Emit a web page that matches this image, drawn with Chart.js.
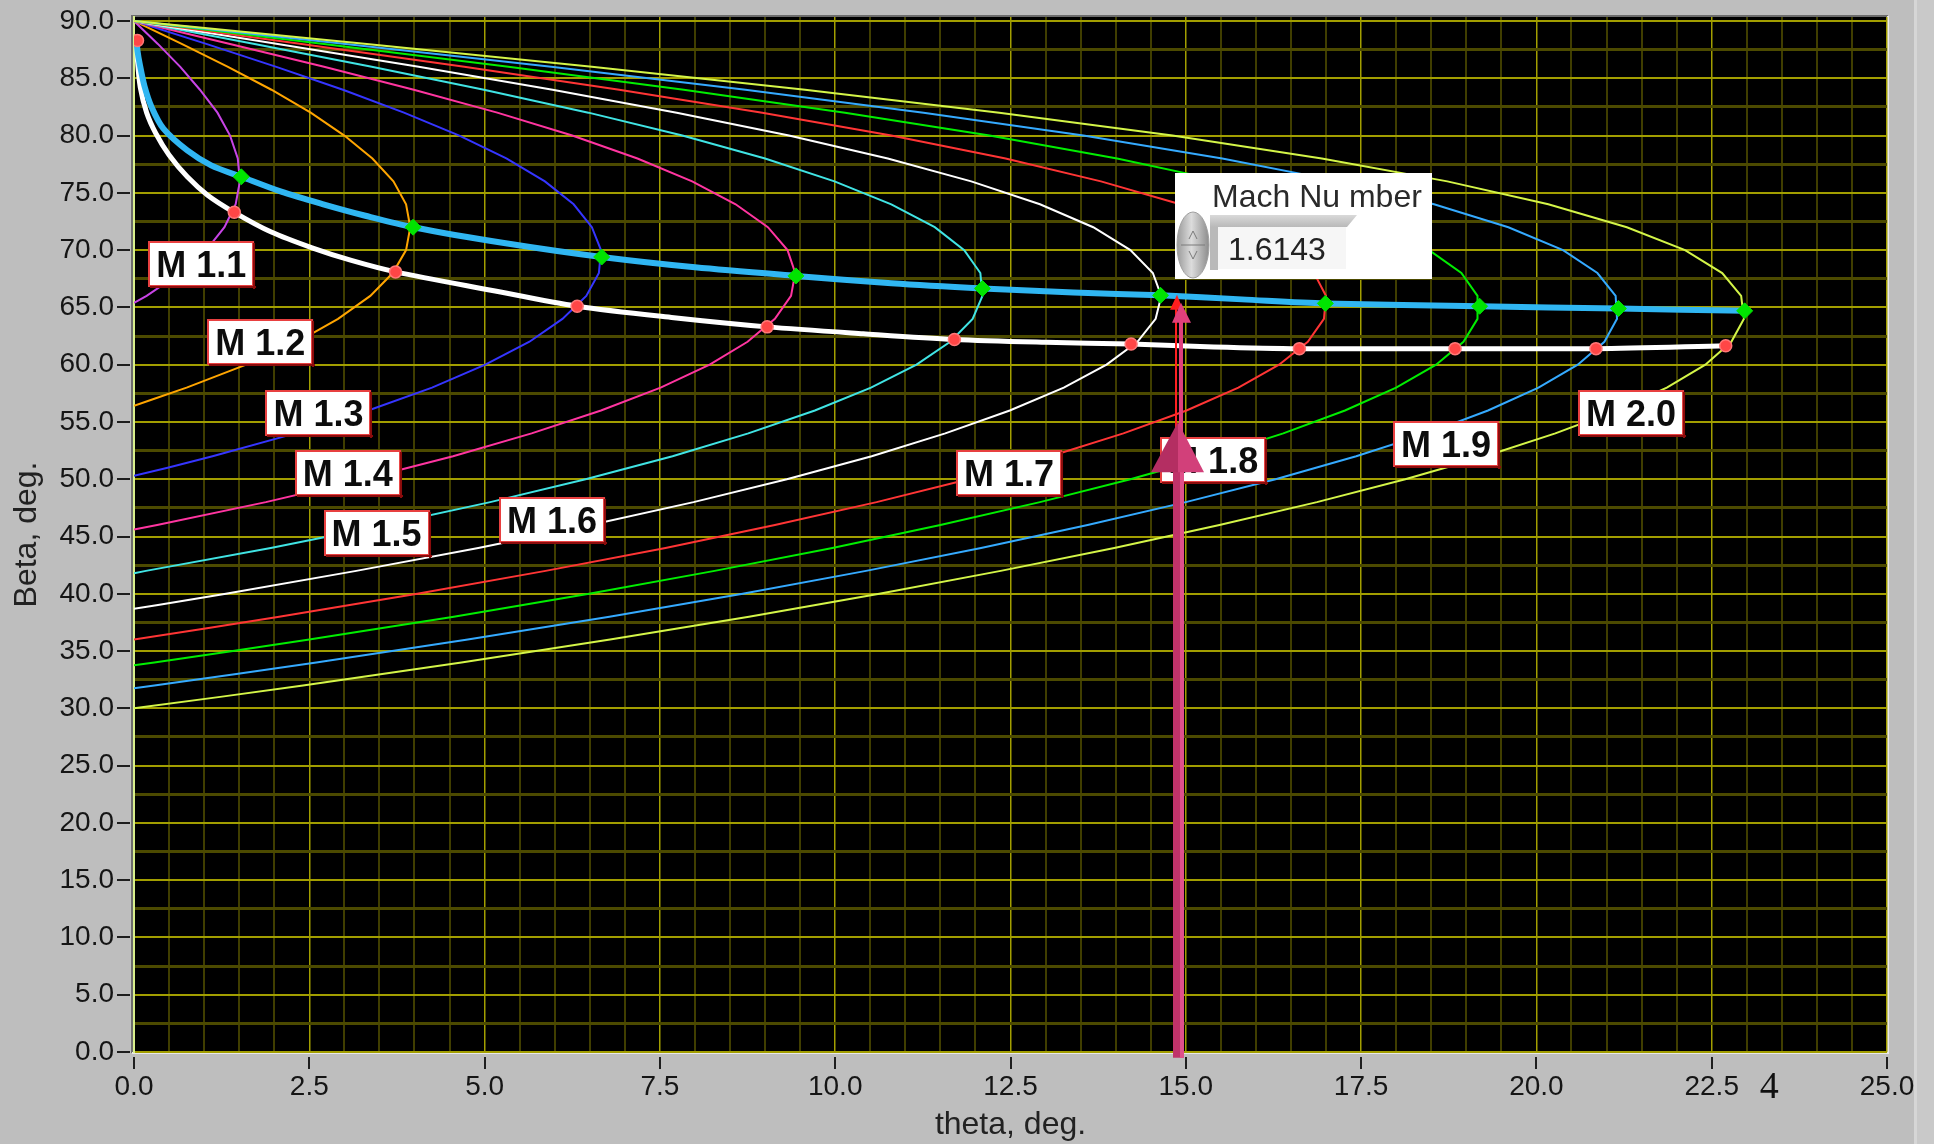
<!DOCTYPE html>
<html lang="en">
<head>
<meta charset="UTF-8">
<title>theta-beta-Mach</title>
<style>
    html, body {
        margin: 0;
        padding: 0;
        background: #bebebe;
    }
    canvas {
        display: block;
    }
</style>
</head>
<body>
<canvas id="chart" width="1934" height="1144"></canvas>
<script src="https://cdn.jsdelivr.net/npm/chart.js"></script>
<script>
// [theta, beta] pairs, one array per Mach number
const machNumbers = ['1.1', '1.2', '1.3', '1.4', '1.5', '1.6', '1.7', '1.8', '1.9', '2.0'];

const m11 = [[0,65.4],[0.18,66],[0.66,68],[1.03,70],[1.29,72],[1.45,74],[1.51,76],[1.48,78],[1.37,80],[1.19,82],[0.94,84],[0.66,86],[0.34,88],[0,90]];
const m12 = [[0,56.4],[0.28,57],[0.75,58],[1.6,60],[2.33,62],[2.91,64],[3.37,66],[3.69,68],[3.88,70],[3.94,72],[3.88,74],[3.7,76],[3.4,78],[3.0,80],[2.52,82],[1.96,84],[1.34,86],[0.68,88],[0,90]];
const m13 = [[0,50.3],[0.48,51],[1.12,52],[2.3,54],[3.34,56],[4.25,58],[5.01,60],[5.64,62],[6.11,64],[6.45,66],[6.63,68],[6.66,70],[6.53,72],[6.27,74],[5.86,76],[5.31,78],[4.64,80],[3.85,82],[2.98,84],[2.03,86],[1.03,88],[0,90]];
const m14 = [[0,45.6],[0.33,46],[1.88,48],[3.27,50],[4.55,52],[5.67,54],[6.66,56],[7.51,58],[8.21,60],[8.75,62],[9.14,64],[9.37,66],[9.43,68],[9.32,70],[9.04,72],[8.58,74],[7.96,76],[7.18,78],[6.25,80],[5.18,82],[3.99,84],[2.71,86],[1.37,88],[0,90]];
const m15 = [[0,41.8],[0.17,42],[1.95,44],[3.58,46],[5.08,48],[6.44,50],[7.68,52],[8.76,54],[9.71,56],[10.51,58],[11.16,60],[11.64,62],[11.96,64],[12.1,66],[12.07,68],[11.84,70],[11.42,72],[10.8,74],[9.99,76],[9.0,78],[7.82,80],[6.48,82],[4.99,84],[3.39,86],[1.72,88],[0,90]];
const m16 = [[0,38.7],[0.32,39],[1.31,40],[3.17,42],[4.91,44],[6.51,46],[7.98,48],[9.31,50],[10.52,52],[11.57,54],[12.49,56],[13.26,58],[13.87,60],[14.31,62],[14.57,64],[14.65,66],[14.53,68],[14.21,70],[13.68,72],[12.92,74],[11.94,76],[10.75,78],[9.34,80],[7.74,82],[5.97,84],[4.06,86],[2.05,88],[0,90]];
const m17 = [[0,36.0],[1.04,37],[2.07,38],[4.04,40],[5.87,42],[7.58,44],[9.14,46],[10.59,48],[11.9,50],[13.07,52],[14.11,54],[15.01,56],[15.75,58],[16.33,60],[16.74,62],[16.97,64],[17.0,66],[16.83,68],[16.43,70],[15.79,72],[14.92,74],[13.79,76],[12.43,78],[10.8,80],[8.96,82],[6.92,84],[4.71,86],[2.39,88],[0,90]];
const m18 = [[0,33.75],[0.29,34],[1.41,35],[2.5,36],[4.56,38],[6.49,40],[8.28,42],[9.96,44],[11.5,46],[12.92,48],[14.21,50],[15.37,52],[16.39,54],[17.27,56],[18.0,58],[18.57,60],[18.96,62],[19.16,64],[19.16,66],[18.93,68],[18.47,70],[17.77,72],[16.79,74],[15.54,76],[14.02,78],[12.2,80],[10.14,82],[7.84,84],[5.34,86],[2.71,88],[0,90]];
const m19 = [[0,31.76],[0.29,32],[1.46,33],[2.6,34],[4.76,36],[6.78,38],[8.68,40],[10.44,42],[12.08,44],[13.6,46],[15.0,48],[16.28,50],[17.43,52],[18.44,54],[19.31,56],[20.03,58],[20.59,60],[20.97,62],[21.15,64],[21.13,66],[20.87,68],[20.38,70],[19.6,72],[18.54,74],[17.19,76],[15.52,78],[13.54,80],[11.26,82],[8.72,84],[5.95,86],[3.02,88],[0,90]];
const m20 = [[0,30],[1.23,31],[2.41,32],[4.67,34],[6.79,36],[8.77,38],[10.63,40],[12.36,42],[13.98,44],[15.48,46],[16.87,48],[18.13,50],[19.27,52],[20.27,54],[21.14,56],[21.86,58],[22.41,60],[22.78,62],[22.96,64],[22.92,66],[22.65,68],[22.12,70],[21.29,72],[20.17,74],[18.73,76],[16.94,78],[14.81,80],[12.34,82],[9.57,84],[6.53,86],[3.32,88],[0,90]];

const curves = [m11, m12, m13, m14, m15, m16, m17, m18, m19, m20];

// thick white line through the red dots, thick blue line through the green dots
const sonicLine = [[0.04,88.3],[0.05,86.5],[0.09,84.2],[0.18,82.0],[0.31,80.2],[0.5,78.3],[0.76,76.4],[1.05,74.8],[1.43,73.3],[1.95,71.6],[2.54,70.2],[3.1,69.1],[3.73,68.1],[5.09,66.5],[6.32,65.1],[7.7,64.1],[9.03,63.3],[10.4,62.7],[11.7,62.2],[13.0,61.95],[14.22,61.8],[15.4,61.55],[16.62,61.4],[18.84,61.4],[20.85,61.4],[22.7,61.65]];
const maxLine = [[0.03,88.6],[0.05,87.4],[0.08,86.3],[0.15,84.3],[0.25,82.5],[0.42,80.6],[0.76,78.7],[1.1,77.4],[1.53,76.4],[2.1,75.1],[2.7,74.0],[3.3,73.0],[3.98,72.0],[5.3,70.6],[6.67,69.4],[8.0,68.5],[9.44,67.75],[10.8,67.1],[12.1,66.65],[13.4,66.3],[14.64,66.05],[15.8,65.7],[16.99,65.35],[19.19,65.1],[21.17,64.9],[22.97,64.7]];
const sonicPoints = [[0.05,88.3],[1.43,73.3],[3.73,68.1],[6.32,65.1],[9.03,63.3],[11.7,62.2],[14.22,61.8],[16.62,61.4],[18.84,61.4],[20.85,61.4],[22.7,61.65]];
const maxPoints = [[1.53,76.4],[3.98,72.0],[6.67,69.4],[9.44,67.75],[12.1,66.65],[14.64,66.05],[16.99,65.35],[19.19,65.1],[21.17,64.9],[22.97,64.7]];

// where each "M x.x" tag sits, [theta, beta]
const labelAt = [[0.96,68.8],[1.80,62.0],[2.63,55.8],[3.05,50.5],[3.46,45.3],[5.96,46.4],[12.48,50.5],[15.39,51.7],[18.71,53.1],[21.35,55.8]];

const machValue = '1.6143';

const curveColors = ['#c844e6', '#ffa500', '#3535ff', '#ff35a0', '#40e4e4', '#ffffff', '#ff3535', '#00ee00', '#35aaff', '#d4f548'];
const gridMajor = '#a29e00';
const gridMinorX = '#403e00';
const gridMinorY = '#4c4a00';

Chart.defaults.font.family = "'Liberation Sans', Arial, sans-serif";

function toXY(arr) {
    return arr.map(p => ({x: p[0], y: p[1]}));
}

function isMajor(v, step) {
    return Math.abs(v / step - Math.round(v / step)) < 1e-6;
}

// lower "order" is drawn on top
const datasets = curves.map((c, i) => ({
    label: 'M ' + machNumbers[i],
    data: toXY(c),
    showLine: true,
    borderColor: curveColors[i],
    borderWidth: 2,
    pointRadius: 0,
    tension: 0,
    order: 20 - i
}));
datasets.push({
    label: 'sonic',
    data: toXY(sonicLine),
    showLine: true,
    borderColor: '#ffffff',
    borderWidth: 5,
    pointRadius: 0,
    tension: 0.3,
    order: 4
});
datasets.push({
    label: 'max deflection',
    data: toXY(maxLine),
    showLine: true,
    borderColor: '#30b6f2',
    borderWidth: 6,
    pointRadius: 0,
    tension: 0.3,
    order: 3
});
datasets.push({
    label: 'max points',
    data: toXY(maxPoints),
    showLine: false,
    pointStyle: 'rectRot',
    pointRadius: 8,
    backgroundColor: '#00e400',
    borderColor: '#00e400',
    borderWidth: 1,
    order: 1
});
datasets.push({
    label: 'sonic points',
    data: toXY(sonicPoints),
    showLine: false,
    pointStyle: 'circle',
    pointRadius: 6,
    backgroundColor: '#ff4646',
    borderColor: '#ff7878',
    borderWidth: 1.5,
    order: 0
});

const decorations = {
    id: 'decorations',
    beforeDraw(chart) {
        const {ctx, chartArea: a} = chart;
        ctx.save();
        ctx.fillStyle = '#000';
        ctx.fillRect(a.left - 2, a.top, a.right - a.left + 2, a.bottom - a.top);
        // frame
        ctx.fillStyle = '#6c6c6c';
        ctx.fillRect(a.left - 3, a.top - 2, a.right - a.left + 4, 2);
        ctx.fillRect(a.left - 3, a.top - 2, 2, a.bottom - a.top + 3);
        ctx.fillStyle = '#e9e9e9';
        ctx.fillRect(a.right, a.top - 1, 2, a.bottom - a.top + 3);
        ctx.fillRect(a.left - 2, a.bottom, a.right - a.left + 4, 2);
        // right strip
        ctx.fillStyle = '#c9c9c9';
        ctx.fillRect(1914, 0, 20, chart.height);
        ctx.fillStyle = '#d6d6d6';
        ctx.fillRect(1914, 0, 3, chart.height);
        ctx.restore();
    },
    afterDatasetsDraw(chart) {
        const {ctx, chartArea: a, scales: {x, y}} = chart;
        ctx.save();

        // tick marks
        ctx.strokeStyle = '#1e1e1e';
        ctx.lineWidth = 2;
        x.ticks.forEach(t => {
            if (!isMajor(t.value, 2.5)) return;
            const px = Math.round(x.getPixelForValue(t.value));
            ctx.beginPath();
            ctx.moveTo(px, a.bottom + 5);
            ctx.lineTo(px, a.bottom + 17);
            ctx.stroke();
        });
        y.ticks.forEach(t => {
            if (!isMajor(t.value, 5)) return;
            const py = Math.round(y.getPixelForValue(t.value));
            ctx.beginPath();
            ctx.moveTo(a.left - 17, py);
            ctx.lineTo(a.left - 4, py);
            ctx.stroke();
        });

        // Mach tags
        ctx.font = "bold 36px 'Liberation Sans', Arial, sans-serif";
        ctx.textAlign = 'center';
        ctx.textBaseline = 'alphabetic';
        labelAt.forEach((p, i) => {
            const cx = x.getPixelForValue(p[0]);
            const cy = y.getPixelForValue(p[1]);
            const text = 'M ' + machNumbers[i];
            const w = ctx.measureText(text).width + 16;
            const h = 46;
            const bx = Math.round(cx - w / 2), by = Math.round(cy - h / 2);
            ctx.fillStyle = '#ffffff';
            ctx.fillRect(bx, by, w, h);
            ctx.strokeStyle = '#e84040';
            ctx.lineWidth = 2;
            ctx.strokeRect(bx + 1, by + 1, w - 2, h - 2);
            ctx.fillStyle = '#8a0c0c';
            ctx.fillRect(bx + 2, by + h - 1, w, 2);
            ctx.fillRect(bx + w - 1, by + 2, 2, h);
            ctx.fillStyle = '#0c0c0c';
            ctx.fillText(text, cx, cy + 13);
        });

        // Mach Number control
        const x0 = Math.round(x.getPixelForValue(14.84));
        const y0 = Math.round(y.getPixelForValue(76.73));
        ctx.fillStyle = '#ffffff';
        ctx.fillRect(x0, y0, 257, 106);
        ctx.font = "32px 'Liberation Sans', Arial, sans-serif";
        ctx.textAlign = 'left';
        ctx.fillStyle = '#2a2a2a';
        ctx.fillText('Mach Nu mber', x0 + 37, y0 + 34);
        let g = ctx.createLinearGradient(0, y0 + 42, 0, y0 + 54);
        g.addColorStop(0, '#d9d9d9');
        g.addColorStop(1, '#b9b9b9');
        ctx.fillStyle = g;
        ctx.beginPath();
        ctx.moveTo(x0 + 35, y0 + 42);
        ctx.lineTo(x0 + 182, y0 + 42);
        ctx.lineTo(x0 + 172, y0 + 54);
        ctx.lineTo(x0 + 43, y0 + 54);
        ctx.lineTo(x0 + 43, y0 + 97);
        ctx.lineTo(x0 + 35, y0 + 97);
        ctx.closePath();
        ctx.fill();
        ctx.fillStyle = '#f6f6f6';
        ctx.fillRect(x0 + 43, y0 + 54, 128, 42);
        ctx.fillStyle = '#222';
        ctx.fillText(machValue, x0 + 53, y0 + 87);
        g = ctx.createLinearGradient(x0 + 2, 0, x0 + 34, 0);
        g.addColorStop(0, '#9a9a9a');
        g.addColorStop(0.45, '#dcdcdc');
        g.addColorStop(1, '#8c8c8c');
        ctx.fillStyle = g;
        ctx.beginPath();
        ctx.ellipse(x0 + 18, y0 + 72, 16, 33, 0, 0, Math.PI * 2);
        ctx.fill();
        ctx.strokeStyle = '#a0a0a0';
        ctx.lineWidth = 1;
        ctx.stroke();
        ctx.strokeStyle = '#7a7a7a';
        ctx.beginPath();
        ctx.moveTo(x0 + 6, y0 + 72);
        ctx.lineTo(x0 + 30, y0 + 72);
        ctx.moveTo(x0 + 14, y0 + 66);
        ctx.lineTo(x0 + 18, y0 + 58);
        ctx.lineTo(x0 + 22, y0 + 66);
        ctx.moveTo(x0 + 14, y0 + 78);
        ctx.lineTo(x0 + 18, y0 + 86);
        ctx.lineTo(x0 + 22, y0 + 78);
        ctx.stroke();

        // arrow pointing at theta = 15
        const ax = Math.round(x.getPixelForValue(14.89));
        const yTip = y.getPixelForValue(66.1);
        const yHead = y.getPixelForValue(55.0);
        const yBase = y.getPixelForValue(50.6);
        const yEnd = y.getPixelForValue(-0.5);
        ctx.fillStyle = '#ff2020';
        ctx.fillRect(ax - 3, yTip + 10, 2, yHead - yTip);
        ctx.fillStyle = '#e0407c';
        ctx.fillRect(ax + 1, yTip + 20, 4, yHead - yTip);
        ctx.fillStyle = '#ff1e1e';
        ctx.beginPath();
        ctx.moveTo(ax - 1, yTip);
        ctx.lineTo(ax + 5, yTip + 15);
        ctx.lineTo(ax - 8, yTip + 15);
        ctx.closePath();
        ctx.fill();
        ctx.fillStyle = '#e0407c';
        ctx.beginPath();
        ctx.moveTo(ax + 3, yTip + 8);
        ctx.lineTo(ax + 13, yTip + 28);
        ctx.lineTo(ax - 6, yTip + 28);
        ctx.closePath();
        ctx.fill();
        ctx.fillStyle = '#c0336a';
        ctx.fillRect(ax - 5, yBase - 2, 11, yEnd - yBase + 2);
        ctx.fillStyle = '#e0508a';
        ctx.fillRect(ax + 2, yBase - 2, 4, yEnd - yBase + 2);
        ctx.fillStyle = '#b42e62';
        ctx.beginPath();
        ctx.moveTo(ax, yHead);
        ctx.lineTo(ax, yBase);
        ctx.lineTo(ax - 27, yBase);
        ctx.closePath();
        ctx.fill();
        ctx.fillStyle = '#d2407a';
        ctx.beginPath();
        ctx.moveTo(ax, yHead);
        ctx.lineTo(ax + 26, yBase);
        ctx.lineTo(ax, yBase);
        ctx.closePath();
        ctx.fill();

        // stray "4" next to the 22.5 label
        ctx.font = "38px 'Liberation Serif', 'Times New Roman', serif";
        ctx.textAlign = 'center';
        ctx.textBaseline = 'middle';
        ctx.fillStyle = '#111';
        ctx.fillText('4', x.getPixelForValue(23.32), a.bottom + 36);
        ctx.restore();
    }
};

const ctx = document.getElementById('chart').getContext('2d');
const chart = new Chart(ctx, {
    type: 'scatter',
    data: {datasets: datasets},
    options: {
        responsive: false,
        devicePixelRatio: 1,
        animation: false,
        layout: {padding: {top: 17, right: 47, left: 0, bottom: 0}},
        plugins: {
            legend: {display: false},
            tooltip: {enabled: false}
        },
        scales: {
            x: {
                type: 'linear',
                min: 0,
                max: 25,
                afterFit(s) {
                    s.height = 92;
                    s.paddingLeft = 0;
                    s.paddingRight = 0;
                },
                ticks: {
                    stepSize: 0.5,
                    maxTicksLimit: 1000,
                    autoSkip: false,
                    maxRotation: 0,
                    padding: 18,
                    color: '#151515',
                    font: {size: 28},
                    callback: v => isMajor(v, 2.5) ? v.toFixed(1) : ''
                },
                grid: {
                    drawTicks: false,
                    color: c => isMajor(c.tick.value, 2.5) ? gridMajor : gridMinorX,
                    lineWidth: c => isMajor(c.tick.value, 2.5) ? 1.5 : 2
                },
                border: {display: false},
                title: {
                    display: true,
                    text: 'theta, deg.',
                    color: '#222',
                    font: {size: 32},
                    padding: {top: 0, bottom: 0}
                }
            },
            y: {
                type: 'linear',
                min: 0,
                max: 90.35,
                afterFit(s) {
                    s.width = 134;
                    s.paddingTop = 0;
                    s.paddingBottom = 0;
                },
                ticks: {
                    stepSize: 2.5,
                    maxTicksLimit: 1000,
                    includeBounds: false,
                    autoSkip: false,
                    padding: 20,
                    color: '#151515',
                    font: {size: 28},
                    callback: v => isMajor(v, 5) ? v.toFixed(1) : ''
                },
                grid: {
                    drawTicks: false,
                    color: c => isMajor(c.tick.value, 5) ? gridMajor : gridMinorY,
                    lineWidth: c => isMajor(c.tick.value, 5) ? 2 : 3
                },
                border: {display: true, color: '#d8f08c', width: 2},
                title: {
                    display: true,
                    text: 'Beta, deg.',
                    color: '#222',
                    font: {size: 32},
                    padding: {top: 8, bottom: 0}
                }
            }
        }
    },
    plugins: [decorations]
});
</script>
</body>
</html>
